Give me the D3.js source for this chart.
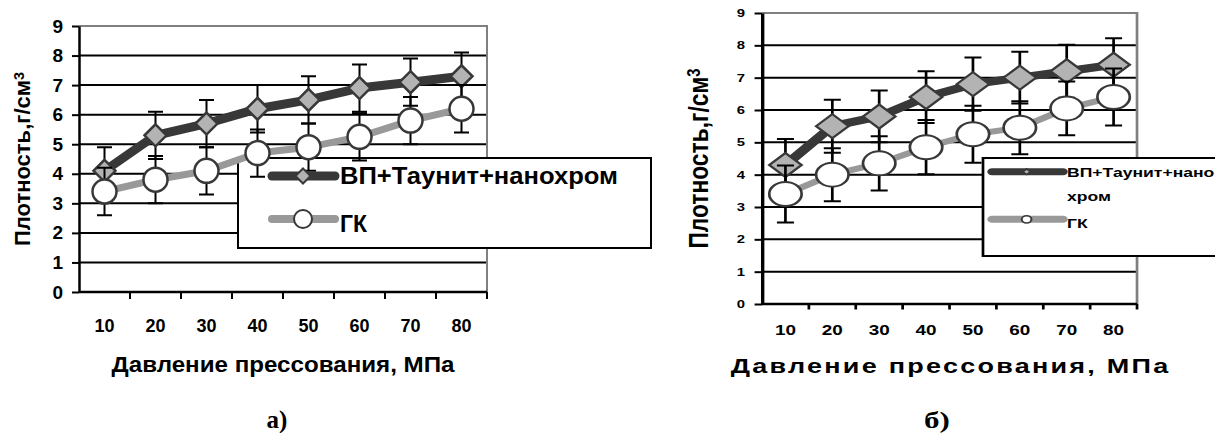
<!DOCTYPE html>
<meta charset="utf-8">
<style>
  html, body {
    margin: 0;
    padding: 0;
    background: #fff;
  }
  svg {
    display: block;
    font-family: "Liberation Sans", Arial, sans-serif;
    font-weight: bold;
  }
</style>
<body>
<script src="https://cdn.jsdelivr.net/npm/d3@7"></script>
<script>
  // data
  var categories = ["10", "20", "30", "40", "50", "60", "70", "80"];
  var seriesNames = ["ВП+Таунит+нанохром", "ГК"];
  var yTicks = [0, 1, 2, 3, 4, 5, 6, 7, 8, 9];

  // panel a)
  var densityA1 = [4.1, 5.3, 5.7, 6.2, 6.5, 6.9, 7.1, 7.3];
  var errorA1 = [0.8, 0.8, 0.8, 0.8, 0.8, 0.8, 0.8, 0.8];
  var densityA2 = [3.4, 3.8, 4.1, 4.7, 4.9, 5.25, 5.8, 6.2];
  var errorA2 = [0.8, 0.8, 0.8, 0.8, 0.8, 0.8, 0.8, 0.8];

  // panel б)
  var densityB1 = [4.3, 5.5, 5.8, 6.4, 6.8, 7.0, 7.2, 7.4];
  var errorB1 = [0.8, 0.82, 0.8, 0.8, 0.82, 0.8, 0.82, 0.82];
  var densityB2 = [3.4, 4.0, 4.35, 4.85, 5.25, 5.45, 6.05, 6.4];
  var errorB2 = [0.88, 0.82, 0.84, 0.84, 0.88, 0.82, 0.83, 0.88];

  var yTitle = "Плотность,г/см";
  var xTitle = "Давление прессования, МПа";

  var darkColor = "#383838", lightColor = "#999", markerFill = "#b3b3b3";

  var svg = d3.select("body").append("svg")
    .attr("width", 1215)
    .attr("height", 433);

  function diamond(cx, cy, rx, ry) {
    return `M${cx},${cy - ry}L${cx + rx},${cy}L${cx},${cy + ry}L${cx - rx},${cy}Z`;
  }

  function drawMarker(g, kind, cx, cy, size, sw) {
    if (kind === "diamond") {
      g.append("path").attr("d", diamond(cx, cy, size, size))
        .attr("fill", markerFill).attr("stroke", darkColor).attr("stroke-width", sw);
    } else {
      g.append("circle").attr("cx", cx).attr("cy", cy).attr("r", size)
        .attr("fill", "#fff").attr("stroke", darkColor).attr("stroke-width", sw);
    }
  }

  function drawPanel(root, c) {
    var x = d3.scaleBand().domain(categories).range([c.left, c.right]);
    var y = d3.scaleLinear().domain([0, 9]).range([c.bottom, c.top]);
    var bw = x.bandwidth();
    var g = root.append("g");

    // grid
    g.selectAll(".grid")
      .data(yTicks.filter(t => t > 0 && t < 9))
      .join("line")
      .attr("x1", c.left).attr("x2", c.right)
      .attr("y1", d => y(d)).attr("y2", d => y(d))
      .attr("stroke", "#000").attr("stroke-width", 2);

    g.append("path")
      .attr("d", `M${c.left},${y(9)}H${c.right}V${y(0)}`)
      .attr("fill", "none").attr("stroke", "#808080").attr("stroke-width", 2);

    // y axis
    var ya = g.append("g")
      .attr("transform", `translate(${c.left},0)`)
      .call(d3.axisLeft(y).tickValues(yTicks).tickSizeInner(c.tick).tickSizeOuter(0)
        .tickPadding(c.yLabelPad).tickFormat(d3.format("d")));
    ya.select(".domain").attr("stroke", "#000").attr("stroke-width", 2.5);
    ya.selectAll(".tick line").attr("stroke", "#000").attr("stroke-width", 2);
    ya.selectAll(".tick text").attr("fill", "#000")
      .style("font-size", c.yLabelFont + "px").style("font-family", null).style("font-weight", "bold");

    // x axis
    var xa = g.append("g")
      .attr("transform", `translate(0,${c.bottom})`)
      .call(d3.axisBottom(x).tickSizeInner(0).tickSizeOuter(0)
        .tickPadding(c.xLabelY - c.bottom - 0.71 * c.xLabelFont));
    xa.select(".domain").remove();
    xa.selectAll(".tick line").remove();
    xa.selectAll(".tick text").attr("fill", "#000")
      .style("font-size", c.xLabelFont + "px").style("font-family", null).style("font-weight", "bold");
    g.append("line")
      .attr("x1", c.left).attr("x2", c.right)
      .attr("y1", c.bottom).attr("y2", c.bottom)
      .attr("stroke", "#000").attr("stroke-width", 2.5);
    g.selectAll(".xtick")
      .data(categories.map(d => x(d)).concat([c.right]).slice(1))
      .join("line")
      .attr("x1", d => d).attr("x2", d => d)
      .attr("y1", c.bottom).attr("y2", c.bottom + c.tick)
      .attr("stroke", "#000").attr("stroke-width", 2);

    // titles
    var yt = g.append("text")
      .attr("transform", `translate(${c.yTitleX},${(c.top + c.bottom) / 2}) rotate(-90)`)
      .attr("text-anchor", "middle")
      .style("font-size", c.yTitleFont + "px");
    yt.append("tspan").text(yTitle);
    yt.append("tspan").attr("dy", "-0.45em").style("font-size", "0.65em").text("3");
    if (c.yTitleLen) yt.attr("textLength", c.yTitleLen).attr("lengthAdjust", "spacingAndGlyphs");

    g.append("text")
      .attr("x", (c.left + c.right) / 2).attr("y", c.xTitleY)
      .attr("text-anchor", "middle")
      .attr("textLength", c.xTitleLen).attr("lengthAdjust", c.xTitleAdjust)
      .style("font-size", c.xTitleFont + "px")
      .text(xTitle);

    g.append("text")
      .attr("x", c.caption.x).attr("y", c.caption.y)
      .attr("text-anchor", "middle")
      .style("font-family", "'Liberation Serif', 'Times New Roman', serif")
      .style("font-size", c.caption.font + "px")
      .text(c.caption.text);

    // legend box sits under the series
    var L = c.legend;
    g.append("rect")
      .attr("x", L.x).attr("y", L.y).attr("width", L.w).attr("height", L.h)
      .attr("fill", "#fff").attr("stroke", "#000").attr("stroke-width", 2);

    // series
    var series = [
      {values: c.s1, err: c.e1, color: darkColor, width: c.lineW[0], kind: "diamond", size: c.diamondR},
      {values: c.s2, err: c.e2, color: lightColor, width: c.lineW[1], kind: "circle", size: c.circleR}
    ];
    var line = d3.line().x(d => x(d.cat) + bw / 2).y(d => y(d.v));
    series.forEach(function(s) {
      var pts = categories.map((cat, i) => ({cat: cat, v: s.values[i], e: s.err[i]}));
      var sg = g.append("g");
      sg.append("path").datum(pts).attr("d", line)
        .attr("fill", "none").attr("stroke", s.color).attr("stroke-width", s.width)
        .attr("stroke-linejoin", "round");
      pts.forEach(function(p) {
        var cx = x(p.cat) + bw / 2;
        sg.append("path")
          .attr("d", `M${cx},${y(p.v - p.e)}V${y(p.v + p.e)}` +
            `M${cx - c.cap},${y(p.v - p.e)}H${cx + c.cap}` +
            `M${cx - c.cap},${y(p.v + p.e)}H${cx + c.cap}`)
          .attr("fill", "none").attr("stroke", "#000").attr("stroke-width", 2);
      });
      pts.forEach(function(p) {
        drawMarker(sg, s.kind, x(p.cat) + bw / 2, y(p.v), s.size, c.markerStroke);
      });
    });

    // legend entries
    series.forEach(function(s, i) {
      var ly = L.rows[i];
      g.append("line")
        .attr("x1", L.x1).attr("x2", L.x2).attr("y1", ly).attr("y2", ly)
        .attr("stroke", s.color).attr("stroke-width", L.lineW[i]).attr("stroke-linecap", "round");
      drawMarker(g, s.kind, L.mx, ly, L.marker[i], L.markerStroke);
      var t = g.append("text").style("font-size", L.font + "px");
      L.text[i].forEach(function(row, k) {
        t.append("tspan").attr("x", L.tx).attr("y", L.baselines[i][k]).text(row);
      });
      if (L.textLen && L.textLen[i]) t.attr("textLength", L.textLen[i]).attr("lengthAdjust", "spacingAndGlyphs");
    });
  }

  // panel a)
  drawPanel(svg, {
    left: 79, right: 487, top: 26, bottom: 292, tick: 7,
    yLabelPad: 9, yLabelFont: 19,
    xLabelY: 332, xLabelFont: 18,
    yTitleX: 30, yTitleFont: 22,
    xTitleY: 372, xTitleFont: 22, xTitleLen: 343, xTitleAdjust: "spacingAndGlyphs",
    s1: densityA1, e1: errorA1, s2: densityA2, e2: errorA2,
    lineW: [9, 7], diamondR: 11, circleR: 12, cap: 7.5, markerStroke: 2.5,
    caption: {x: 277, y: 428, font: 25, text: "а)"},
    legend: {
      x: 238, y: 158, w: 413, h: 90,
      x1: 272, x2: 335, mx: 303, tx: 340,
      rows: [176, 219], lineW: [9, 8], marker: [7.5, 9], markerStroke: 2,
      font: 23,
      text: [[seriesNames[0]], [seriesNames[1]]],
      baselines: [[184], [232]],
      textLen: [278, 27]
    }
  });

  // panel б) is stretched sideways in the source, so draw it narrow and scale
  var stretch = 1.35;
  var right = svg.append("g").attr("transform", `translate(600,0) scale(${stretch},1)`);
  drawPanel(right, {
    left: 120, right: 397.8, top: 13, bottom: 304, tick: 5.5,
    yLabelPad: 7, yLabelFont: 11,
    xLabelY: 335, xLabelFont: 14,
    yTitleX: 80, yTitleFont: 20, yTitleLen: 180,
    xTitleY: 373, xTitleFont: 20, xTitleLen: 324, xTitleAdjust: "spacing",
    s1: densityB1, e1: errorB1, s2: densityB2, e2: errorB2,
    lineW: [8, 6], diamondR: 12, circleR: 12, cap: 6.3, markerStroke: 2,
    caption: {x: 249.6, y: 428, font: 23, text: "б)"},
    legend: {
      x: 283.7, y: 158, w: 200, h: 98,
      x1: 290.4, x2: 343, mx: 316, tx: 346,
      rows: [171.7, 219.3], lineW: [7, 7], marker: [2.8, 3.6], markerStroke: 1.5,
      font: 13,
      text: [["ВП+Таунит+нано", "хром"], [seriesNames[1]]],
      baselines: [[177.5, 201.5], [228]],
      textLen: null
    }
  });
</script>
</body>
